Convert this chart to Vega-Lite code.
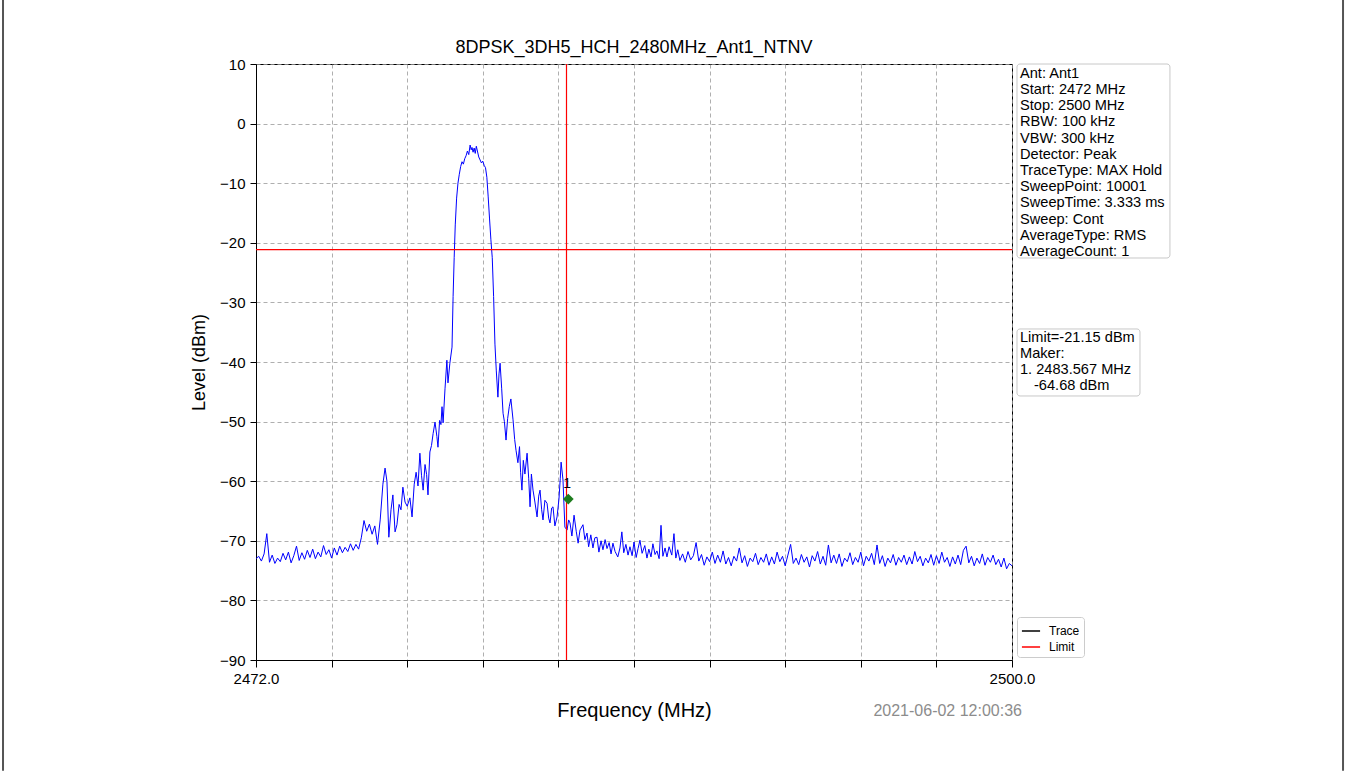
{
  "$schema": "https://vega.github.io/schema/vega-lite/v6.json",
  "autosize": "none",
  "width": 756,
  "height": 596,
  "padding": {"left": 256, "top": 64, "right": 333, "bottom": 111},
  "background": "white",
  "config": {
    "font": "Liberation Sans",
    "view": {"stroke": "black", "strokeWidth": 1},
    "axis": {"domainColor": "black", "tickColor": "black", "labelColor": "black", "titleColor": "black", "labelFont": "Liberation Sans", "titleFont": "Liberation Sans", "titleFontWeight": "normal", "gridColor": "#9a9a9a", "gridDash": [4, 3], "gridWidth": 0.8, "tickSize": 6, "labelFontSize": 15}
  },
  "datasets": {
    "trace": [
      {"f":2472.0,"v":-73.0},{"f":2472.1,"v":-72.6},{"f":2472.2,"v":-73.4},{"f":2472.3,"v":-72.2},{"f":2472.4,"v":-68.8},{"f":2472.5,"v":-73.6},{"f":2472.6,"v":-72.4},{"f":2472.7,"v":-73.8},{"f":2472.8,"v":-72.9},{"f":2472.9,"v":-73.5},
      {"f":2473.0,"v":-72.1},{"f":2473.1,"v":-73.2},{"f":2473.2,"v":-71.9},{"f":2473.3,"v":-73.7},{"f":2473.4,"v":-72.5},{"f":2473.5,"v":-70.9},{"f":2473.6,"v":-73.3},{"f":2473.7,"v":-72.0},{"f":2473.8,"v":-73.1},{"f":2473.9,"v":-71.6},
      {"f":2474.0,"v":-72.8},{"f":2474.1,"v":-71.4},{"f":2474.2,"v":-73.0},{"f":2474.3,"v":-71.9},{"f":2474.4,"v":-72.7},{"f":2474.5,"v":-70.8},{"f":2474.6,"v":-72.3},{"f":2474.7,"v":-71.5},{"f":2474.8,"v":-72.9},{"f":2474.9,"v":-71.2},
      {"f":2475.0,"v":-72.4},{"f":2475.1,"v":-70.9},{"f":2475.2,"v":-72.0},{"f":2475.3,"v":-71.1},{"f":2475.4,"v":-71.8},{"f":2475.5,"v":-70.5},{"f":2475.6,"v":-71.6},{"f":2475.7,"v":-70.6},{"f":2475.8,"v":-71.4},{"f":2475.9,"v":-69.5},
      {"f":2476.0,"v":-66.6},{"f":2476.1,"v":-68.4},{"f":2476.2,"v":-67.2},{"f":2476.3,"v":-68.9},{"f":2476.4,"v":-67.5},{"f":2476.5,"v":-70.6},{"f":2476.6,"v":-66.5},{"f":2476.7,"v":-60.5},{"f":2476.78,"v":-57.8},{"f":2476.85,"v":-60.0},
      {"f":2476.92,"v":-69.4},{"f":2477.0,"v":-64.8},{"f":2477.07,"v":-62.3},{"f":2477.15,"v":-68.5},{"f":2477.22,"v":-67.3},{"f":2477.3,"v":-63.9},{"f":2477.37,"v":-64.8},{"f":2477.44,"v":-61.0},{"f":2477.52,"v":-63.5},{"f":2477.6,"v":-64.2},
      {"f":2477.7,"v":-62.8},{"f":2477.78,"v":-66.0},{"f":2477.86,"v":-60.5},{"f":2477.93,"v":-58.5},{"f":2478.0,"v":-60.8},{"f":2478.07,"v":-55.3},{"f":2478.13,"v":-59.0},{"f":2478.19,"v":-61.5},{"f":2478.26,"v":-57.2},{"f":2478.32,"v":-58.9},
      {"f":2478.37,"v":-62.3},{"f":2478.44,"v":-55.1},{"f":2478.5,"v":-54.0},{"f":2478.56,"v":-52.0},{"f":2478.63,"v":-50.1},{"f":2478.7,"v":-52.5},{"f":2478.74,"v":-54.3},{"f":2478.8,"v":-49.8},{"f":2478.85,"v":-50.5},{"f":2478.89,"v":-47.5},
      {"f":2478.93,"v":-50.2},{"f":2479.0,"v":-44.5},{"f":2479.07,"v":-39.7},{"f":2479.11,"v":-43.5},{"f":2479.18,"v":-40.2},{"f":2479.26,"v":-37.5},{"f":2479.3,"v":-29.0},{"f":2479.34,"v":-22.5},{"f":2479.38,"v":-17.0},{"f":2479.43,"v":-12.5},
      {"f":2479.48,"v":-10.0},{"f":2479.53,"v":-8.5},{"f":2479.58,"v":-7.2},{"f":2479.63,"v":-6.4},{"f":2479.68,"v":-6.8},{"f":2479.73,"v":-5.9},{"f":2479.78,"v":-5.4},{"f":2479.83,"v":-4.6},{"f":2479.88,"v":-5.2},{"f":2479.93,"v":-3.6},
      {"f":2479.97,"v":-4.4},{"f":2480.0,"v":-4.0},{"f":2480.04,"v":-4.8},{"f":2480.08,"v":-4.1},{"f":2480.12,"v":-5.0},{"f":2480.16,"v":-3.8},{"f":2480.2,"v":-4.6},{"f":2480.25,"v":-5.6},{"f":2480.3,"v":-6.1},{"f":2480.35,"v":-6.6},
      {"f":2480.4,"v":-6.3},{"f":2480.45,"v":-7.0},{"f":2480.5,"v":-7.4},{"f":2480.55,"v":-9.0},{"f":2480.6,"v":-12.3},{"f":2480.65,"v":-16.0},{"f":2480.7,"v":-19.5},{"f":2480.75,"v":-22.5},{"f":2480.8,"v":-29.0},{"f":2480.85,"v":-37.0},
      {"f":2480.9,"v":-41.5},{"f":2480.96,"v":-45.9},{"f":2481.0,"v":-42.0},{"f":2481.04,"v":-40.2},{"f":2481.1,"v":-44.5},{"f":2481.15,"v":-48.6},{"f":2481.2,"v":-50.0},{"f":2481.26,"v":-53.1},{"f":2481.32,"v":-49.5},{"f":2481.38,"v":-47.5},
      {"f":2481.44,"v":-46.2},{"f":2481.52,"v":-49.7},{"f":2481.58,"v":-53.0},{"f":2481.63,"v":-54.8},{"f":2481.7,"v":-56.9},{"f":2481.76,"v":-54.2},{"f":2481.8,"v":-58.5},{"f":2481.85,"v":-61.5},{"f":2481.9,"v":-56.5},{"f":2481.96,"v":-58.8},
      {"f":2482.04,"v":-55.3},{"f":2482.1,"v":-59.5},{"f":2482.15,"v":-64.3},{"f":2482.2,"v":-58.8},{"f":2482.26,"v":-61.5},{"f":2482.33,"v":-63.5},{"f":2482.41,"v":-66.0},{"f":2482.47,"v":-62.5},{"f":2482.52,"v":-61.5},{"f":2482.58,"v":-64.8},
      {"f":2482.63,"v":-66.5},{"f":2482.7,"v":-63.2},{"f":2482.78,"v":-63.7},{"f":2482.84,"v":-66.2},{"f":2482.89,"v":-67.0},{"f":2482.95,"v":-64.5},{"f":2483.0,"v":-64.3},{"f":2483.07,"v":-67.5},{"f":2483.15,"v":-66.0},{"f":2483.22,"v":-63.0},
      {"f":2483.27,"v":-59.5},{"f":2483.3,"v":-56.8},{"f":2483.37,"v":-59.8},{"f":2483.44,"v":-67.7},{"f":2483.52,"v":-68.2},{"f":2483.58,"v":-66.5},{"f":2483.63,"v":-67.0},{"f":2483.7,"v":-69.2},{"f":2483.78,"v":-65.7},{"f":2483.86,"v":-68.4},
      {"f":2483.93,"v":-70.4},{"f":2484.0,"v":-68.2},{"f":2484.11,"v":-67.3},{"f":2484.18,"v":-69.8},{"f":2484.26,"v":-68.7},{"f":2484.32,"v":-71.0},{"f":2484.4,"v":-69.0},{"f":2484.48,"v":-71.2},{"f":2484.55,"v":-69.5},{"f":2484.63,"v":-69.4},
      {"f":2484.7,"v":-71.9},{"f":2484.78,"v":-70.0},{"f":2484.85,"v":-71.5},{"f":2484.93,"v":-69.8},{"f":2485.0,"v":-71.3},{"f":2485.08,"v":-70.3},{"f":2485.15,"v":-72.2},{"f":2485.22,"v":-70.4},{"f":2485.3,"v":-71.8},{"f":2485.4,"v":-72.7},
      {"f":2485.48,"v":-71.2},{"f":2485.55,"v":-68.5},{"f":2485.62,"v":-72.0},{"f":2485.7,"v":-70.6},{"f":2485.78,"v":-72.4},{"f":2485.85,"v":-71.0},{"f":2485.93,"v":-72.5},{"f":2486.0,"v":-70.2},{"f":2486.08,"v":-72.8},{"f":2486.15,"v":-71.3},
      {"f":2486.22,"v":-69.9},{"f":2486.3,"v":-72.1},{"f":2486.4,"v":-70.8},{"f":2486.48,"v":-72.9},{"f":2486.55,"v":-71.4},{"f":2486.63,"v":-72.7},{"f":2486.7,"v":-70.5},{"f":2486.78,"v":-72.3},{"f":2486.85,"v":-71.7},{"f":2486.93,"v":-73.0},
      {"f":2487.0,"v":-67.4},{"f":2487.07,"v":-72.6},{"f":2487.15,"v":-71.2},{"f":2487.22,"v":-72.7},{"f":2487.3,"v":-71.0},{"f":2487.4,"v":-72.4},{"f":2487.48,"v":-68.8},{"f":2487.55,"v":-72.9},{"f":2487.62,"v":-71.5},{"f":2487.7,"v":-73.3},
      {"f":2487.8,"v":-72.2},{"f":2487.9,"v":-73.6},{"f":2488.0,"v":-71.8},{"f":2488.1,"v":-73.2},{"f":2488.2,"v":-72.5},{"f":2488.3,"v":-70.3},{"f":2488.4,"v":-73.4},{"f":2488.5,"v":-72.3},{"f":2488.6,"v":-74.1},{"f":2488.7,"v":-72.7},
      {"f":2488.8,"v":-73.5},{"f":2488.9,"v":-71.9},{"f":2489.0,"v":-73.8},{"f":2489.1,"v":-72.4},{"f":2489.2,"v":-73.6},{"f":2489.3,"v":-71.7},{"f":2489.4,"v":-73.9},{"f":2489.5,"v":-72.8},{"f":2489.6,"v":-74.2},{"f":2489.7,"v":-72.6},
      {"f":2489.8,"v":-73.4},{"f":2489.9,"v":-71.2},{"f":2490.0,"v":-73.7},{"f":2490.1,"v":-72.5},{"f":2490.2,"v":-74.3},{"f":2490.3,"v":-72.9},{"f":2490.4,"v":-73.5},{"f":2490.5,"v":-72.1},{"f":2490.6,"v":-74.0},{"f":2490.7,"v":-72.8},
      {"f":2490.8,"v":-73.6},{"f":2490.9,"v":-72.2},{"f":2491.0,"v":-74.1},{"f":2491.1,"v":-72.7},{"f":2491.2,"v":-73.9},{"f":2491.3,"v":-71.9},{"f":2491.4,"v":-73.5},{"f":2491.5,"v":-72.6},{"f":2491.6,"v":-74.2},{"f":2491.7,"v":-72.4},
      {"f":2491.8,"v":-70.6},{"f":2491.9,"v":-73.8},{"f":2492.0,"v":-72.9},{"f":2492.1,"v":-74.0},{"f":2492.2,"v":-72.3},{"f":2492.3,"v":-73.6},{"f":2492.4,"v":-72.7},{"f":2492.5,"v":-74.4},{"f":2492.6,"v":-72.5},{"f":2492.7,"v":-73.4},
      {"f":2492.8,"v":-71.8},{"f":2492.9,"v":-73.9},{"f":2493.0,"v":-72.6},{"f":2493.1,"v":-74.1},{"f":2493.2,"v":-70.7},{"f":2493.3,"v":-73.7},{"f":2493.4,"v":-72.4},{"f":2493.5,"v":-73.8},{"f":2493.6,"v":-72.2},{"f":2493.7,"v":-74.3},
      {"f":2493.8,"v":-72.9},{"f":2493.9,"v":-73.5},{"f":2494.0,"v":-72.0},{"f":2494.1,"v":-74.0},{"f":2494.2,"v":-72.8},{"f":2494.3,"v":-73.6},{"f":2494.4,"v":-71.9},{"f":2494.5,"v":-74.2},{"f":2494.6,"v":-72.6},{"f":2494.7,"v":-73.4},
      {"f":2494.8,"v":-72.1},{"f":2494.9,"v":-74.0},{"f":2495.0,"v":-70.7},{"f":2495.1,"v":-73.8},{"f":2495.2,"v":-72.5},{"f":2495.3,"v":-74.3},{"f":2495.4,"v":-72.9},{"f":2495.5,"v":-73.7},{"f":2495.6,"v":-72.3},{"f":2495.7,"v":-74.1},
      {"f":2495.8,"v":-72.8},{"f":2495.9,"v":-73.6},{"f":2496.0,"v":-72.4},{"f":2496.1,"v":-74.0},{"f":2496.2,"v":-72.7},{"f":2496.3,"v":-73.9},{"f":2496.4,"v":-71.8},{"f":2496.5,"v":-73.5},{"f":2496.6,"v":-72.6},{"f":2496.7,"v":-74.2},
      {"f":2496.8,"v":-72.9},{"f":2496.9,"v":-73.7},{"f":2497.0,"v":-72.3},{"f":2497.1,"v":-74.1},{"f":2497.2,"v":-72.5},{"f":2497.3,"v":-73.8},{"f":2497.4,"v":-71.9},{"f":2497.5,"v":-73.6},{"f":2497.6,"v":-72.8},{"f":2497.7,"v":-74.3},
      {"f":2497.8,"v":-72.7},{"f":2497.9,"v":-73.9},{"f":2498.0,"v":-72.4},{"f":2498.1,"v":-74.0},{"f":2498.2,"v":-71.6},{"f":2498.3,"v":-70.9},{"f":2498.4,"v":-73.7},{"f":2498.5,"v":-72.6},{"f":2498.6,"v":-74.2},{"f":2498.7,"v":-72.9},
      {"f":2498.8,"v":-73.8},{"f":2498.9,"v":-72.2},{"f":2499.0,"v":-74.1},{"f":2499.1,"v":-72.8},{"f":2499.2,"v":-73.6},{"f":2499.3,"v":-72.4},{"f":2499.4,"v":-74.0},{"f":2499.5,"v":-73.1},{"f":2499.6,"v":-74.4},{"f":2499.7,"v":-72.9},
      {"f":2499.8,"v":-74.7},{"f":2499.9,"v":-73.8},{"f":2500.0,"v":-74.2}
    ]
  },
  "layer": [
    {
      "data": {"values": [{"xe": 2462.63, "ya": 20.74, "yb": -108.6}, {"xe": 2512.26, "ya": 20.74, "yb": -108.6}]},
      "mark": {"type": "rule", "color": "#555555", "strokeWidth": 2, "clip": false},
      "encoding": {"x": {"field": "xe", "type": "quantitative"}, "y": {"field": "ya", "type": "quantitative"}, "y2": {"field": "yb"}}
    },
    {
      "data": {"name": "trace"},
      "mark": {"type": "line", "color": "#0000ff", "strokeWidth": 1, "clip": true},
      "encoding": {
        "x": {"field": "f", "type": "quantitative", "scale": {"domain": [2472, 2500], "nice": false, "zero": false},
          "axis": {"title": "Frequency (MHz)", "titleFontSize": 20, "titlePadding": 14, "grid": true, "tickSize": 7, "labelPadding": 4,
            "values": [2472, 2474.8, 2477.6, 2480.4, 2483.2, 2486, 2488.8, 2491.6, 2494.4, 2497.2, 2500],
            "labelExpr": "datum.value == 2472 ? '2472.0' : (datum.value == 2500 ? '2500.0' : '')", "labelFlush": false, "labelFontSize": 15}},
        "y": {"field": "v", "type": "quantitative", "scale": {"domain": [-90, 10], "nice": false, "zero": false},
          "axis": {"title": "Level (dBm)", "titleFontSize": 18, "titlePadding": 11, "grid": true, "values": [-90, -80, -70, -60, -50, -40, -30, -20, -10, 0, 10], "labelPadding": 5}}
      }
    },
    {
      "data": {"values": [{"lim": -21.15, "s": "Limit"}]},
      "mark": {"type": "rule", "strokeWidth": 1.2},
      "encoding": {
        "y": {"field": "lim", "type": "quantitative"},
        "color": {"field": "s", "type": "nominal", "scale": {"domain": ["Trace", "Limit"], "range": ["#000000", "#ff0000"]},
          "legend": {"title": null, "orient": "none", "legendX": 761, "legendY": 553, "symbolType": "stroke", "strokeColor": "#cccccc", "fillColor": "white", "padding": 4, "cornerRadius": 3, "labelFontSize": 12, "labelFont": "Liberation Sans", "symbolSize": 330, "symbolStrokeWidth": 1.5, "rowPadding": 0, "labelColor": "black", "labelOffset": 8}}
      }
    },
    {
      "data": {"values": [{"fl": 2483.5}]},
      "mark": {"type": "rule", "color": "#ff0000", "strokeWidth": 1.2},
      "encoding": {"x": {"field": "fl", "type": "quantitative"}}
    },
    {
      "data": {"values": [{"f": 2483.567, "v": -63.0}]},
      "mark": {"type": "point", "shape": "diamond", "filled": true, "color": "#1e7d1e", "size": 115, "opacity": 1},
      "encoding": {"x": {"field": "f", "type": "quantitative"}, "y": {"field": "v", "type": "quantitative"}}
    },
    {
      "data": {"values": [{"f": 2483.52, "v": -60.4, "t": "1"}]},
      "mark": {"type": "text", "fontSize": 14, "color": "black", "baseline": "middle", "align": "center"},
      "encoding": {"x": {"field": "f", "type": "quantitative"}, "y": {"field": "v", "type": "quantitative"}, "text": {"field": "t"}}
    },
    {
      "data": {"values": [{"f": 2486, "v": 12.7, "t": "8DPSK_3DH5_HCH_2480MHz_Ant1_NTNV"}]},
      "mark": {"type": "text", "fontSize": 18, "color": "black", "baseline": "middle", "align": "center", "clip": false},
      "encoding": {"x": {"field": "f", "type": "quantitative"}, "y": {"field": "v", "type": "quantitative"}, "text": {"field": "t"}}
    },
    {
      "data": {"values": [
        {"x1": 2500.185, "x2": 2505.85, "y1": 10, "y2": -22.55},
        {"x1": 2500.185, "x2": 2504.74, "y1": -34.46, "y2": -45.7}
      ]},
      "mark": {"type": "rect", "fill": "white", "stroke": "#c8c8c8", "strokeWidth": 1, "cornerRadius": 3, "clip": false},
      "encoding": {"x": {"field": "x1", "type": "quantitative"}, "x2": {"field": "x2"}, "y": {"field": "y1", "type": "quantitative"}, "y2": {"field": "y2"}}
    },
    {
      "data": {"values": [
        {"x": 2500.296, "y": 9.7, "t": "Ant: Ant1\nStart: 2472 MHz\nStop: 2500 MHz\nRBW: 100 kHz\nVBW: 300 kHz\nDetector: Peak\nTraceType: MAX Hold\nSweepPoint: 10001\nSweepTime: 3.333 ms\nSweep: Cont\nAverageType: RMS\nAverageCount: 1"},
        {"x": 2500.296, "y": -34.6, "t": "Limit=-21.15 dBm\nMaker:\n1. 2483.567 MHz"},
        {"x": 2500.815, "y": -42.75, "t": "-64.68 dBm"}
      ]},
      "mark": {"type": "text", "align": "left", "baseline": "top", "fontSize": 14.6, "lineHeight": 16.2, "lineBreak": "\n", "color": "black", "clip": false},
      "encoding": {"x": {"field": "x", "type": "quantitative"}, "y": {"field": "y", "type": "quantitative"}, "text": {"field": "t"}}
    },
    {
      "data": {"values": [{"x": 2500.37, "y": -98.6, "t": "2021-06-02 12:00:36"}]},
      "mark": {"type": "text", "align": "right", "baseline": "middle", "fontSize": 16, "color": "#8c8c8c", "clip": false},
      "encoding": {"x": {"field": "x", "type": "quantitative"}, "y": {"field": "y", "type": "quantitative"}, "text": {"field": "t"}}
    }
  ]
}
